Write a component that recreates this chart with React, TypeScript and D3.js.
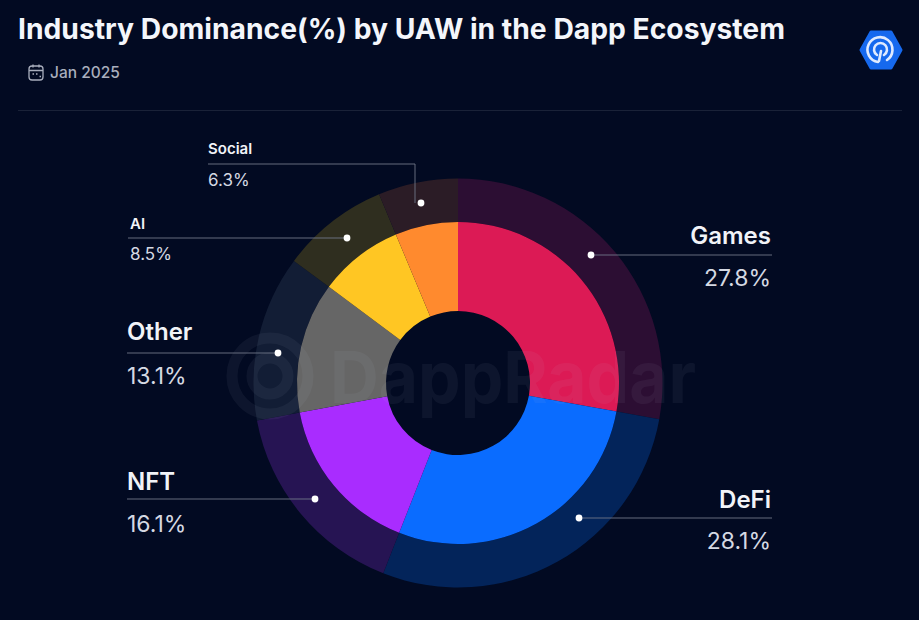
import React from "react";
import * as d3 from "d3";

const categories = ["Games", "DeFi", "NFT", "Other", "AI", "Social"];
const values = [27.8, 28.1, 16.1, 13.1, 8.5, 6.3];
const colors = ["#dc1a55", "#0a6cff", "#a92cff", "#666666", "#ffc623", "#ff8a2e"];
const outerColors = ["#2c0e33", "#03245a", "#261453", "#121d35", "#2f2e1f", "#2b1c26"];
const valueLabels = ["27.8%", "28.1%", "16.1%", "13.1%", "8.5%", "6.3%"];

const W = 919, H = 620, cx = 458, cy = 383;
const BG = "#020a22";

type L = { dot: [number, number]; x0: number; x1: number; y: number; anchor: "start" | "end"; size: number; nameY: number; valY: number; tx: number };
const leaders: L[] = [
  { dot: [591, 255], x0: 591, x1: 772, y: 255, anchor: "end", size: 24, nameY: 244, valY: 286, tx: 771 },
  { dot: [579, 518], x0: 579, x1: 772, y: 518, anchor: "end", size: 24, nameY: 508, valY: 549, tx: 771 },
  { dot: [315, 499], x0: 127, x1: 315, y: 499, anchor: "start", size: 24, nameY: 490, valY: 532, tx: 127 },
  { dot: [278, 353], x0: 127, x1: 278, y: 353, anchor: "start", size: 24, nameY: 340, valY: 384, tx: 127 },
  { dot: [347, 238], x0: 128, x1: 347, y: 238, anchor: "start", size: 15, nameY: 229, valY: 260, tx: 130 },
  { dot: [421, 203], x0: 208, x1: 415, y: 164, anchor: "start", size: 15, nameY: 154, valY: 186, tx: 208 },
];

export default function App() {
  const pie = d3.pie<number>().sort(null).value((d) => d)(values);
  const inner = d3.arc<d3.PieArcDatum<number>>().innerRadius(72).outerRadius(161);
  const outer = d3.arc<d3.PieArcDatum<number>>().innerRadius(161).outerRadius(204.5);
  const font = "Inter, 'Noto Sans', sans-serif";
  return (
    <svg width={W} height={H} viewBox={`0 0 ${W} ${H}`} style={{ position: "fixed", left: 0, top: 0, display: "block", background: BG }} fontFamily={font}>
      <rect width={W} height={H} fill={BG} />
      <text x={18} y={39} fontSize={28} fontWeight={700} fill="#f4f6fb" textLength={767} lengthAdjust="spacingAndGlyphs">
        Industry Dominance(%) by UAW in the Dapp Ecosystem
      </text>
      <g fill="none" stroke="#a9aebd" strokeWidth={1.3}>
        <rect x={29} y={66} width={14} height={14} rx={3} />
        <path d="M29 70.5H43M33 64.5V67.5M39 64.5V67.5" />
        <path d="M32.5 74H34M36 74H37.5M39.5 76.5H41" />
      </g>
      <text x={50} y={78} fontSize={15.5} fontWeight={500} fill="#a9aebd">Jan 2025</text>
      <line x1={18} x2={902} y1={110.5} y2={110.5} stroke="#1a2238" strokeWidth={1} />

      <g transform="translate(881,50)">
        <path d="M-10-18H10L20 0 10 18H-10L-20 0Z" fill="#1669ee" stroke="#1669ee" strokeWidth={3} strokeLinejoin="round" />
        <g fill="none" stroke="#dfeaff" strokeWidth={2.6} strokeLinecap="round">
          <path d="M-3 12A12.5 12.5 0 1 1 6 10" />
          <path d="M-4 5A6.5 6.5 0 1 1 3 5" />
          <path d="M-2 11L0 1" />
        </g>
      </g>

      <g transform={`translate(${cx},${cy})`}>
        {pie.map((d, i) => (
          <path key={"o" + i} d={outer(d) ?? ""} fill={outerColors[i]} />
        ))}
        {pie.map((d, i) => (
          <path key={"i" + i} d={inner(d) ?? ""} fill={colors[i]} />
        ))}
      </g>

      <g opacity={0.055} fill="#c9d2e6">
        <g fill="none" stroke="#c9d2e6" strokeWidth={11}>
          <circle cx={270} cy={376} r={38} />
          <circle cx={270} cy={376} r={18} />
        </g>
        <text x={330} y={403} fontSize={72} fontWeight={700} textLength={366} lengthAdjust="spacingAndGlyphs">DappRadar</text>
      </g>

      {leaders.map((l, i) => (
        <g key={categories[i]}>
          <path
            d={i === 5 ? `M${l.x0} ${l.y}H${l.x1}V${l.dot[1]}` : `M${l.x0} ${l.y}H${l.x1}`}
            fill="none"
            stroke="#6f7688"
            strokeWidth={0.9}
          />
          <circle cx={l.dot[0]} cy={l.dot[1]} r={3.4} fill="#ffffff" />
          <text x={l.tx} y={l.nameY} textAnchor={l.anchor} fontSize={l.size} fontWeight={600} fill="#f1f3f8">{categories[i]}</text>
          <text x={l.tx} y={l.valY} textAnchor={l.anchor} fontSize={l.size === 24 ? 23 : 17} fill="#d5d9e3">{valueLabels[i]}</text>
        </g>
      ))}
    </svg>
  );
}
